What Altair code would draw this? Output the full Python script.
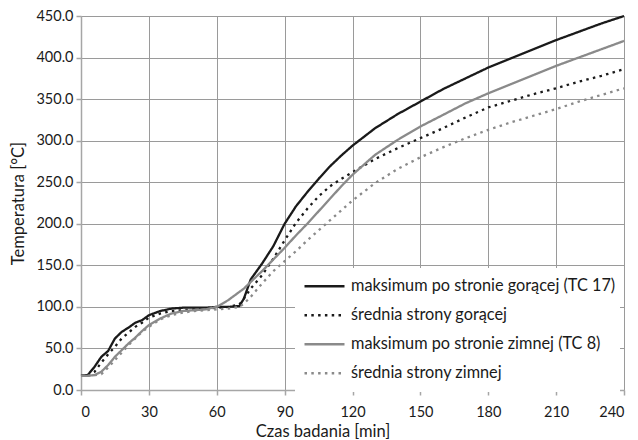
import altair as alt
import pandas as pd

times = [0, 3, 6, 9, 12, 15, 18, 21, 24, 27, 30, 35, 40, 45, 50, 55, 60, 65, 70, 72, 75,
         80, 85, 90, 95, 100, 105, 110, 115, 120, 130, 140, 150, 160, 170, 180, 190, 200,
         210, 220, 230, 240]

max_hot = [17, 18, 28, 40, 47, 62, 70, 75, 81, 84, 90, 95, 98, 99, 99, 99, 100, 100, 101, 110, 133,
           152, 173, 200, 221, 238, 254, 269, 282, 294, 315, 332, 347, 362, 375, 388, 399, 410,
           421, 431, 441, 450]
mean_hot = [17, 18, 22, 33, 43, 52, 62, 69, 76, 81, 87, 92, 95, 96, 97, 98, 99, 100, 103, 110, 122,
            138, 158, 180, 201, 218, 233, 245, 254, 262, 278, 291, 303, 315, 328, 340, 348, 356,
            363, 371, 378, 386]
max_cold = [17, 17, 18, 22, 30, 40, 48, 56, 63, 71, 78, 86, 92, 95, 96, 97, 100, 108, 118, 122, 130,
            143, 157, 171, 186, 200, 215, 230, 245, 259, 283, 301, 317, 331, 345, 357, 368, 379,
            390, 400, 410, 420]
mean_cold = [17, 17, 18, 19, 27, 36, 45, 54, 62, 70, 76, 85, 90, 93, 95, 96, 97, 98, 100, 104, 112,
             128, 143, 155, 167, 180, 192, 204, 216, 228, 249, 266, 280, 292, 303, 313, 322, 330,
             338, 347, 355, 363]

names = ["maksimum po stronie gorącej (TC 17)", "średnia strony gorącej",
         "maksimum po stronie zimnej (TC 8)", "średnia strony zimnej"]
series = [max_hot, mean_hot, max_cold, mean_cold]

rows = []
for n, vals in zip(names, series):
    for t, v in zip(times, vals):
        rows.append({"t": t, "T": v, "s": n})
df = pd.DataFrame(rows)

FONT = "Lato"
colors = ["#1a1a1a", "#1a1a1a", "#8a8a8a", "#8a8a8a"]
dashes = [[1, 0], [2.5, 4.3], [1, 0], [2.5, 4.3]]

chart = alt.Chart(df).mark_line(strokeWidth=2.3).encode(
    x=alt.X("t:Q", scale=alt.Scale(domain=[0, 240], nice=False),
            axis=alt.Axis(values=list(range(0, 241, 30)), title="Czas badania [min]",
                          titleX=241.5, titleY=33, titleAlign="center")),
    y=alt.Y("T:Q", scale=alt.Scale(domain=[0, 450], nice=False),
            axis=alt.Axis(values=list(range(0, 451, 50)), format=".1f",
                          title="Temperatura [°C]", titleX=-63, titleY=187,
                          titleAngle=270, titleAlign="center", titleBaseline="middle")),
    color=alt.Color("s:N", scale=alt.Scale(domain=names, range=colors), title=None,
                    legend=alt.Legend(orient="none", legendX=214, legendY=252)),
    strokeDash=alt.StrokeDash("s:N", scale=alt.Scale(domain=names, range=dashes), title=None),
    detail="s:N",
).properties(
    width=543, height=374,
    autosize=alt.AutoSizeParams(type="none"),
    padding={"left": 81, "top": 16, "right": 14, "bottom": 50},
).configure_view(stroke=None).configure_axis(
    gridColor="#9a9a9a", gridWidth=1, domainColor="#a6a6a6", domainWidth=1.5,
    tickColor="#a6a6a6", tickSize=5, tickWidth=1.5,
    labelFont=FONT, labelFontSize=14.5, labelColor="#1a1a1a",
    titleFont=FONT, titleFontSize=16.5, titleFontWeight="normal", titleColor="#1a1a1a",
).configure_axisX(labelPadding=10).configure_axisY(labelPadding=3).configure_legend(
    fillColor="white", padding=4, symbolOffset=4, symbolType="stroke", symbolSize=1600,
    symbolStrokeWidth=2.5, labelFont=FONT, labelFontSize=16.3, labelColor="#1a1a1a",
    labelLimit=400, rowPadding=0, labelOffset=5, clipHeight=28.3,
)

chart.save("out.html", embed_options={"renderer": "svg", "actions": False})
